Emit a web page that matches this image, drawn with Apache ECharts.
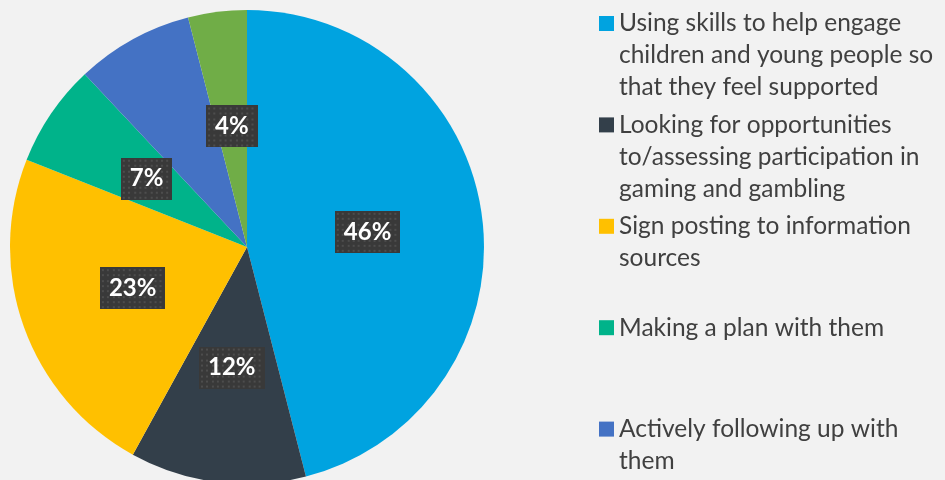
<!DOCTYPE html>
<html>
<head>
<meta charset="utf-8">
<script src="https://cdn.jsdelivr.net/npm/echarts@6/dist/echarts.min.js"></script>
<style>
  html, body { margin: 0; padding: 0; background: #F2F2F2; }
  #chart { width: 945px; height: 480px; }
</style>
</head>
<body>
<div id="chart"></div>
<script>
// Survey responses: share of each approach (percent)
const categories = [
  'Using skills to help engage children and young people so that they feel supported',
  'Looking for opportunities to/assessing participation in gaming and gambling',
  'Sign posting to information sources',
  'Making a plan with them',
  'Actively following up with them',
  'Other'
];
const values = [46, 12, 23, 7, 8, 4];
const colors = ['#00A3E0', '#333F4A', '#FFC000', '#00B38A', '#4472C4', '#70AD47'];

// Legend text broken onto lines the way it is shown beside the pie
const legendLines = [
  ['Using skills to help engage', 'children and young people so', 'that they feel supported'],
  ['Looking for opportunities', 'to/assessing participation in', 'gaming and gambling'],
  ['Sign posting to information', 'sources'],
  ['Making a plan with them'],
  ['Actively following up with', 'them'],
  ['Other']
];

const FONT = 'Lato';
const LINE_H = 32;
const SLOT = 101.4;     // vertical distance between legend entries
const FIRST_ICON_Y = 23.5;

// Dark dotted tile used behind the data labels
function dotTile(w, h) {
  const c = document.createElement('canvas');
  c.width = w; c.height = h;
  const g = c.getContext('2d');
  g.fillStyle = '#393939';
  g.fillRect(0, 0, w, h);
  g.fillStyle = '#4D4D4D';
  for (let y = 2; y < h; y += 5.3) {
    for (let x = 2; x < w; x += 5.3) {
      g.fillRect(Math.round(x), Math.round(y), 2, 2);
    }
  }
  return c;
}
const tileWide = dotTile(66, 42);
const tileNarrow = dotTile(50, 42);

const pieData = categories.map((name, i) => ({
  name: name,
  value: values[i],
  itemStyle: { color: colors[i] },
  label: {
    backgroundColor: { image: values[i] >= 10 ? tileWide : tileNarrow }
  }
}));

// One legend block per entry so each sits in its own fixed slot.
// Legend text is centred on its swatch, so blank lines are put ahead of
// the text to bring the first text line level with the swatch.
const legends = categories.map((name, i) => {
  const n = legendLines[i].length;
  const iconY = FIRST_ICON_Y + i * SLOT;
  return {
    data: [name],
    orient: 'vertical',
    left: 599,
    top: iconY - (2 * n - 1) * LINE_H / 2,
    padding: 0,
    itemWidth: 15,
    itemHeight: 15,
    itemGap: 0,
    icon: 'rect',
    selectedMode: false,
    formatter: () => '\n'.repeat(n - 1) + legendLines[i].join('\n'),
    textStyle: {
      fontFamily: FONT,
      fontSize: 24.5,
      color: '#404040',
      lineHeight: LINE_H
    }
  };
});

const chart = echarts.init(document.getElementById('chart'), null, { renderer: 'canvas' });
chart.setOption({
  backgroundColor: '#F2F2F2',
  animation: false,
  legend: legends,
  series: [{
    type: 'pie',
    center: [247, 247],
    radius: 237,
    startAngle: 90,
    clockwise: true,
    avoidLabelOverlap: false,
    emphasis: { disabled: true },
    itemStyle: { borderWidth: 0 },
    label: {
      show: true,
      position: 'inside',
      formatter: '{c}%',
      fontFamily: FONT,
      fontWeight: 'bold',
      fontSize: 24,
      color: '#FFFFFF',
      lineHeight: 26,
      padding: [8, 9, 8, 9],
      shadowColor: 'rgba(0,0,0,0.45)',
      shadowBlur: 6,
      shadowOffsetX: 3,
      shadowOffsetY: 3
    },
    labelLine: { show: false },
    data: pieData
  }]
});
</script>
</body>
</html>
